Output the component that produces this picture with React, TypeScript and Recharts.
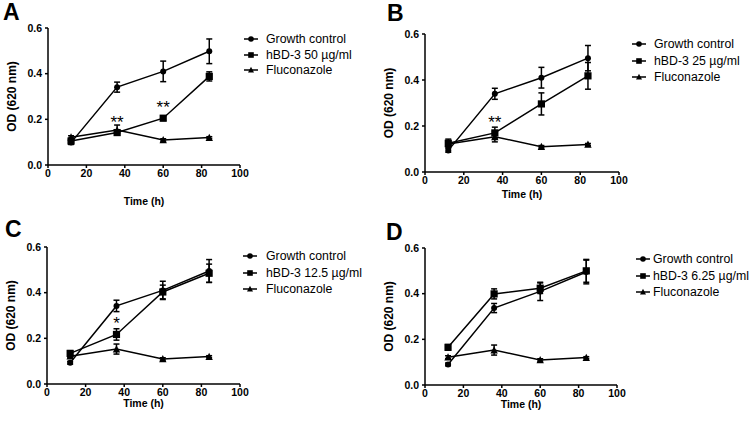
import React from 'react';
import { LineChart, Line, XAxis, YAxis, ErrorBar, LabelList } from 'recharts';

const times = [12, 36, 60, 84];
const xTicks = [0, 20, 40, 60, 80, 100];
const yTicks = [0, 0.2, 0.4, 0.6];

const growthA = [0.098, 0.341, 0.41, 0.498];
const growthErrA = [0.008, 0.022, 0.045, 0.054];
const growthB = [0.094, 0.34, 0.41, 0.495];
const growthErrB = [0.008, 0.024, 0.045, 0.055];
const growthC = [0.093, 0.342, 0.41, 0.495];
const growthErrC = [0.006, 0.025, 0.04, 0.05];
const growthD = [0.09, 0.337, 0.41, 0.495];
const growthErrD = [0.006, 0.02, 0.04, 0.052];

const hbdA = [0.105, 0.142, 0.205, 0.388];
const hbdErrA = [0.012, 0.01, 0.01, 0.02];
const hbdB = [0.125, 0.17, 0.296, 0.418];
const hbdErrB = [0.018, 0.025, 0.048, 0.058];
const hbdC = [0.134, 0.217, 0.403, 0.485];
const hbdErrC = [0.012, 0.025, 0.03, 0.04];
const hbdD = [0.165, 0.399, 0.424, 0.5];
const hbdErrD = [0.012, 0.022, 0.023, 0.05];

const fluco = [0.122, 0.153, 0.11, 0.12];
const flucoErr = [0.006, 0.022, 0.005, 0.004];

const sigA = ['', '**', '**', ''];
const sigB = ['', '**', '', ''];
const sigC = ['', '*', '', ''];
const sigD = ['', '', '', ''];

const panelLetters = ['A', 'B', 'C', 'D'];
const hbdNames = ['hBD-3 50 µg/ml', 'hBD-3 25 µg/ml', 'hBD-3 12.5 µg/ml', 'hBD-3 6.25 µg/ml'];
const growthName = 'Growth control';
const flucoName = 'Fluconazole';
const xTitle = 'Time (h)';
const yTitle = 'OD (620 nm)';

const FONT = '"Liberation Sans", Arial, Helvetica, sans-serif';

const build = (g: number[], ge: number[], h: number[], he: number[], s: string[]) =>
  times.map((t, i) => ({ t, growth: g[i], growthErr: ge[i], hbd: h[i], hbdErr: he[i], fluco: fluco[i], flucoErr: flucoErr[i], sig: s[i] }));

const panelData = [
  build(growthA, growthErrA, hbdA, hbdErrA, sigA),
  build(growthB, growthErrB, hbdB, hbdErrB, sigB),
  build(growthC, growthErrC, hbdC, hbdErrC, sigC),
  build(growthD, growthErrD, hbdD, hbdErrD, sigD),
];

// layout: chart box origin, plot margins, x axis height, legend placement, letter placement
const layouts = [
  { left: 0, top: 0, margin: { top: 28, right: 135, bottom: 7, left: 14 }, xh: 40, lg: { x: 244, tx: 266, y: 31, gap: 15.5 }, letter: { x: 3, y: 1 } },
  { left: 375, top: 0, margin: { top: 34, right: 131, bottom: 14, left: 16 }, xh: 26, lg: { x: 632, tx: 654, y: 36, gap: 16.5 }, letter: { x: 387, y: 2 } },
  { left: 0, top: 212, margin: { top: 35, right: 135, bottom: 17, left: 13 }, xh: 23, lg: { x: 243, tx: 266, y: 248, gap: 16.5 }, letter: { x: 5, y: 218 } },
  { left: 375, top: 212, margin: { top: 36, right: 133, bottom: 16, left: 16 }, xh: 23, lg: { x: 636, tx: 653, y: 251, gap: 16.5 }, letter: { x: 386, y: 221 } },
];

const Circle = (p: any) => {
  const { cx, cy, r = 3.7 } = p;
  if (cx == null || cy == null) return null;
  return <circle key={`c${cx}`} cx={cx} cy={cy} r={r} fill="#000" />;
};
const Square = (p: any) => {
  const { cx, cy, s = 7.2 } = p;
  if (cx == null || cy == null) return null;
  return <rect key={`s${cx}`} x={cx - s / 2} y={cy - s / 2} width={s} height={s} fill="#000" />;
};
const Triangle = (p: any) => {
  const { cx, cy, s = 7.4 } = p;
  if (cx == null || cy == null) return null;
  const h = s * 0.9;
  return <path key={`t${cx}`} d={`M${cx},${cy - h / 2 - 0.5} L${cx + s / 2},${cy + h / 2} L${cx - s / 2},${cy + h / 2} Z`} fill="#000" />;
};

const tickStyle = { fontSize: 10.5, fontWeight: 700, fill: '#000', fontFamily: FONT };

const XTitle = (props: any) => {
  const vb = props.viewBox || {};
  return (
    <text x={vb.x + vb.width / 2} y={vb.y + vb.height} textAnchor="middle" fontSize={10.5} fontWeight={700} fontFamily={FONT} fill="#000">
      {xTitle}
    </text>
  );
};
const YTitle = (props: any) => {
  const vb = props.viewBox || {};
  const x = vb.x + vb.width - 36;
  const y = vb.y + vb.height / 2;
  return (
    <text x={x} y={y} transform={`rotate(-90, ${x}, ${y})`} textAnchor="middle" dominantBaseline="central" fontSize={12} fontWeight={700} fontFamily={FONT} fill="#000">
      {yTitle}
    </text>
  );
};

const SigLabel = (props: any) => {
  const { x, y, value } = props;
  if (!value) return null;
  return (
    <text x={x} y={y - 5} textAnchor="middle" fontSize={17} fontFamily={FONT} fill="#000" stroke="none" style={{ fill: '#000' }}>
      {value}
    </text>
  );
};

const LegendIcon = ({ kind }: { kind: string }) => (
  <svg width={14} height={10} style={{ display: 'block' }}>
    <line x1={0} y1={5} x2={14} y2={5} stroke="#000" strokeWidth={1.5} />
    {kind === 'c' && <circle cx={7} cy={5} r={2.8} fill="#000" />}
    {kind === 's' && <rect x={4.2} y={2.2} width={5.6} height={5.6} fill="#000" />}
    {kind === 't' && <path d="M7,1.8 L10,7.4 L4,7.4 Z" fill="#000" />}
  </svg>
);

const Panel = ({ idx }: { idx: number }) => {
  const L = layouts[idx];
  const data = panelData[idx];
  const names = [growthName, hbdNames[idx], flucoName];
  const kinds = ['c', 's', 't'];
  return (
    <>
      <div style={{ position: 'absolute', left: L.left, top: L.top }}>
        <LineChart width={375} height={212} data={data} margin={L.margin}>
          <XAxis
            dataKey="t"
            type="number"
            domain={[0, 100]}
            ticks={xTicks}
            height={L.xh}
            interval={0}
            tick={tickStyle}
            tickSize={3}
            tickMargin={2}
            axisLine={{ stroke: '#000', strokeWidth: 1.5 }}
            tickLine={{ stroke: '#000', strokeWidth: 1.5 }}
            label={{ content: XTitle }}
          />
          <YAxis
            type="number"
            domain={[0, 0.6]}
            ticks={yTicks}
            width={34}
            interval={0}
            tick={tickStyle}
            tickSize={3}
            tickMargin={3}
            tickFormatter={(v: number) => v.toFixed(1)}
            axisLine={{ stroke: '#000', strokeWidth: 1.5 }}
            tickLine={{ stroke: '#000', strokeWidth: 1.5 }}
            label={{ content: YTitle }}
          />
          <Line dataKey="fluco" name={flucoName} stroke="#000" strokeWidth={1.5} isAnimationActive={false} dot={(p: any) => <Triangle {...p} />} activeDot={false}>
            <ErrorBar dataKey="flucoErr" width={3} stroke="#000" strokeWidth={1.5} direction="y" />
          </Line>
          <Line dataKey="hbd" name={hbdNames[idx]} stroke="#000" strokeWidth={1.5} isAnimationActive={false} dot={(p: any) => <Square {...p} />} activeDot={false}>
            <ErrorBar dataKey="hbdErr" width={3} stroke="#000" strokeWidth={1.5} direction="y" />
            <LabelList dataKey="sig" content={SigLabel} />
          </Line>
          <Line dataKey="growth" name={growthName} stroke="#000" strokeWidth={1.5} isAnimationActive={false} dot={(p: any) => <Circle {...p} />} activeDot={false}>
            <ErrorBar dataKey="growthErr" width={3} stroke="#000" strokeWidth={1.5} direction="y" />
          </Line>
        </LineChart>
      </div>
      <div style={{ position: 'absolute', left: L.letter.x, top: L.letter.y, fontFamily: FONT, fontWeight: 700, fontSize: 23, lineHeight: '23px', color: '#000' }}>
        {panelLetters[idx]}
      </div>
      {names.map((n, i) => (
        <div key={n} style={{ position: 'absolute', left: L.lg.x, top: L.lg.y + i * L.lg.gap, height: 16, display: 'flex', alignItems: 'center' }}>
          <LegendIcon kind={kinds[i]} />
          <span style={{ position: 'absolute', left: L.lg.tx - L.lg.x, top: 0, lineHeight: '16px', whiteSpace: 'nowrap', fontFamily: FONT, fontSize: 12.3, color: '#000' }}>{n}</span>
        </div>
      ))}
    </>
  );
};

export default function App() {
  return (
    <div style={{ position: 'absolute', left: 0, top: 0, width: 751, height: 425, background: '#fff', overflow: 'hidden' }}>
      {[0, 1, 2, 3].map((i) => (
        <Panel key={i} idx={i} />
      ))}
    </div>
  );
}
